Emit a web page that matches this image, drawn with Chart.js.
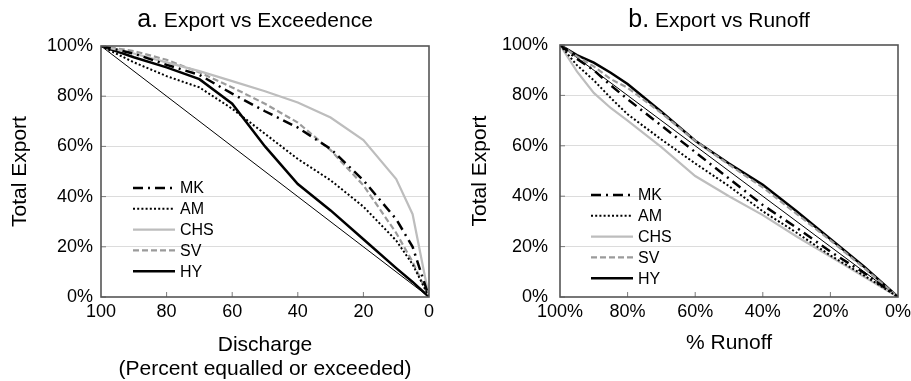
<!DOCTYPE html>
<html>
<head>
<meta charset="UTF-8">
<title>Export vs Exceedence / Runoff</title>
<script src="https://cdn.jsdelivr.net/npm/chart.js"></script>
<style>
    body { margin: 0; background: #fff; }
    .panel { position: absolute; top: 0; height: 381px; }
    #panelA { left: 0; width: 455px; }
    #panelB { left: 455px; width: 456px; }
</style>
</head>
<body>
<div class="panel" id="panelA"><canvas id="chartA"></canvas></div>
<div class="panel" id="panelB"><canvas id="chartB"></canvas></div>
<script>
    // panel a: discharge percent equalled or exceeded
    var exceedX = [100, 90, 80, 70, 60, 50, 40, 30, 20, 10, 5, 0];
    var exceedMK = [100, 97, 92.5, 88.5, 81, 74, 67.5, 59, 46.5, 31, 20, 0];
    var exceedAM = [100, 93.5, 88, 83.5, 75, 65, 55, 46.5, 36, 22.5, 13, 0];
    var exceedCHS = [100, 97, 93.5, 90, 86, 82, 77.5, 71.5, 62.5, 47, 33, 0];
    var exceedSV = [100, 98, 94.5, 89.5, 83.5, 77, 69.5, 58.5, 44.5, 25.5, 14, 0];
    var exceedHY = [100, 95.5, 91.5, 86.8, 77, 60, 45, 34.5, 23, 11.5, 6, 0];

    // panel b: percent runoff
    var runoffX = [100, 95, 90, 85, 80, 70, 60, 50, 40, 30, 20, 10, 0];
    var runoffMK = [100, 94.5, 90, 84, 78.5, 68, 57.5, 47, 36.5, 27.5, 18, 9.5, 0];
    var runoffAM = [100, 92, 86, 79, 72.5, 62.5, 53, 44, 34, 25.5, 16.5, 8.5, 0];
    var runoffCHS = [100, 89.5, 81, 75, 70, 59.5, 48, 40, 32.5, 24, 16, 8, 0];
    var runoffSV = [100, 95.5, 91.5, 86.5, 83, 73, 62, 52.5, 43.5, 33, 22.5, 11.5, 0];
    var runoffHY = [100, 96, 93, 89, 84.5, 73.5, 62, 53, 44.5, 34, 23, 12, 0];

    // 1:1 line
    var lineX = [100, 0];
    var lineY = [100, 0];

    var seriesNames = ["MK", "AM", "CHS", "SV", "HY"];
    var yTicks = [0, 20, 40, 60, 80, 100];

    var FONT = '"Liberation Sans", Arial, Helvetica, sans-serif';
    Chart.defaults.font.family = FONT;
    Chart.defaults.color = "#000";

    var styles = {
        MK: { borderColor: "#000", borderWidth: 2.5, borderDash: [10, 5, 2, 5] },
        AM: { borderColor: "#000", borderWidth: 2, borderDash: [2, 2.2] },
        CHS: { borderColor: "#bdbdbd", borderWidth: 2.2, borderDash: [] },
        SV: { borderColor: "#9b9b9b", borderWidth: 2.2, borderDash: [6, 3] },
        HY: { borderColor: "#000", borderWidth: 2.5, borderDash: [] }
    };

    function pts(xs, ys) {
        return xs.map(function (x, i) { return { x: x, y: ys[i] }; });
    }

    // title with larger panel letter
    var panelTitle = {
        id: "panelTitle",
        afterDraw: function (chart, args, opts) {
            var ctx = chart.ctx, a = chart.chartArea;
            ctx.save();
            ctx.fillStyle = "#000";
            ctx.textBaseline = "alphabetic";
            ctx.textAlign = "left";
            ctx.font = "25px " + FONT;
            var w1 = ctx.measureText(opts.letter).width;
            ctx.font = "21px " + FONT;
            var w2 = ctx.measureText(" " + opts.text).width;
            var x = (a.left + a.right) / 2 - 10 - (w1 + w2) / 2;
            ctx.font = "25px " + FONT;
            ctx.fillText(opts.letter, x, 27);
            ctx.font = "21px " + FONT;
            ctx.fillText(" " + opts.text, x + w1, 27);
            ctx.restore();
        }
    };

    // frame and inward tick marks
    var frame = {
        id: "frame",
        afterDatasetsDraw: function (chart) {
            var ctx = chart.ctx, a = chart.chartArea;
            var xs = chart.scales.x, ys = chart.scales.y;
            ctx.save();
            ctx.strokeStyle = "#7a7a7a";
            ctx.lineWidth = 1;
            xs.ticks.forEach(function (t) {
                var px = xs.getPixelForValue(t.value);
                if (Math.abs(px - a.left) < 2 || Math.abs(px - a.right) < 2) return;
                ctx.beginPath();
                ctx.moveTo(px, a.bottom);
                ctx.lineTo(px, a.bottom - 5);
                ctx.stroke();
            });
            ys.ticks.forEach(function (t) {
                var py = ys.getPixelForValue(t.value);
                ctx.beginPath();
                ctx.moveTo(a.left, py);
                ctx.lineTo(a.left + 5, py);
                ctx.stroke();
            });
            ctx.strokeStyle = "#555";
            ctx.lineWidth = 1.6;
            ctx.strokeRect(a.left, a.top, a.right - a.left, a.bottom - a.top);
            ctx.restore();
        }
    };

    // legend drawn inside the plot area
    var insideLegend = {
        id: "insideLegend",
        afterDraw: function (chart, args, opts) {
            var ctx = chart.ctx, a = chart.chartArea;
            var x0 = a.left + opts.dx, y = a.top + opts.dy;
            ctx.save();
            ctx.font = "16px " + FONT;
            ctx.textBaseline = "middle";
            ctx.textAlign = "left";
            chart.data.datasets.forEach(function (ds) {
                if (!ds.label) return;
                ctx.strokeStyle = ds.borderColor;
                ctx.lineWidth = ds.borderWidth;
                ctx.setLineDash(ds.borderDash || []);
                ctx.beginPath();
                ctx.moveTo(x0, y);
                ctx.lineTo(x0 + 42, y);
                ctx.stroke();
                ctx.setLineDash([]);
                ctx.fillStyle = "#000";
                ctx.fillText(ds.label, x0 + 47, y + 1);
                y += 20.8;
            });
            ctx.restore();
        }
    };

    function makeChart(id, xs, series, cfg) {
        var datasets = seriesNames.map(function (name, i) {
            var s = styles[name];
            return {
                label: name,
                data: pts(xs, series[i]),
                borderColor: s.borderColor,
                borderWidth: s.borderWidth,
                borderDash: s.borderDash,
                borderCapStyle: "butt",
                pointRadius: 0,
                tension: 0,
                fill: false
            };
        });
        datasets.push({
            label: "",
            data: pts(lineX, lineY),
            borderColor: "#000",
            borderWidth: 1,
            pointRadius: 0,
            fill: false
        });

        return new Chart(document.getElementById(id), {
            type: "line",
            data: { datasets: datasets },
            options: {
                responsive: true,
                maintainAspectRatio: false,
                animation: false,
                layout: { padding: { top: cfg.top, right: cfg.right, left: 0, bottom: 0 } },
                scales: {
                    x: {
                        type: "linear",
                        reverse: true,
                        min: 0,
                        max: 100,
                        grid: { display: false, drawTicks: false },
                        border: { display: false },
                        ticks: {
                            stepSize: 20,
                            padding: 4,
                            font: { size: 18 },
                            color: "#000",
                            maxRotation: 0,
                            callback: cfg.xFmt
                        },
                        title: {
                            display: true,
                            text: cfg.xTitle,
                            font: { size: 21, lineHeight: 1.15 },
                            color: "#000",
                            padding: { top: 0, bottom: cfg.xTitlePad }
                        },
                        afterFit: function (s) {
                            s.height = 84;
                            s.paddingLeft = 0;
                            s.paddingRight = 0;
                        }
                    },
                    y: {
                        min: 0,
                        max: 100,
                        afterBuildTicks: function (s) {
                            s.ticks = yTicks.map(function (v) { return { value: v }; });
                        },
                        grid: {
                            color: function (c) {
                                return (c.tick.value === 0 || c.tick.value === 100) ? "rgba(0,0,0,0)" : "#dcdcdc";
                            },
                            lineWidth: 1,
                            drawTicks: false
                        },
                        border: { display: false },
                        ticks: {
                            padding: cfg.yPad,
                            font: { size: 18 },
                            color: "#000",
                            callback: function (v) { return v + "%"; }
                        },
                        title: {
                            display: true,
                            text: "Total Export",
                            font: { size: 21, lineHeight: 1.15 },
                            color: "#000",
                            padding: { top: cfg.yTitlePad, bottom: 0 }
                        },
                        afterFit: function (s) {
                            s.width = cfg.yWidth;
                            s.paddingTop = 0;
                            s.paddingBottom = 0;
                        }
                    }
                },
                plugins: {
                    legend: { display: false },
                    tooltip: { enabled: false },
                    panelTitle: { letter: cfg.letter, text: cfg.title },
                    insideLegend: { dx: cfg.legDx, dy: cfg.legDy }
                }
            },
            plugins: [frame, panelTitle, insideLegend]
        });
    }

    makeChart("chartA", exceedX, [exceedMK, exceedAM, exceedCHS, exceedSV, exceedHY], {
        letter: "a.",
        title: "Export vs Exceedence",
        xTitle: ["Discharge", "(Percent equalled or exceeded)"],
        xTitlePad: 0,
        xFmt: function (v) { return v; },
        top: 46,
        right: 26,
        yWidth: 101,
        yPad: 8,
        yTitlePad: 8,
        legDx: 32,
        legDy: 142
    });

    makeChart("chartB", runoffX, [runoffMK, runoffAM, runoffCHS, runoffSV, runoffHY], {
        letter: "b.",
        title: "Export vs Runoff",
        xTitle: "% Runoff",
        xTitlePad: 26,
        xFmt: function (v) { return v + "%"; },
        top: 45,
        right: 13,
        yWidth: 105,
        yPad: 12,
        yTitlePad: 13,
        legDx: 31,
        legDy: 150
    });
</script>
</body>
</html>
